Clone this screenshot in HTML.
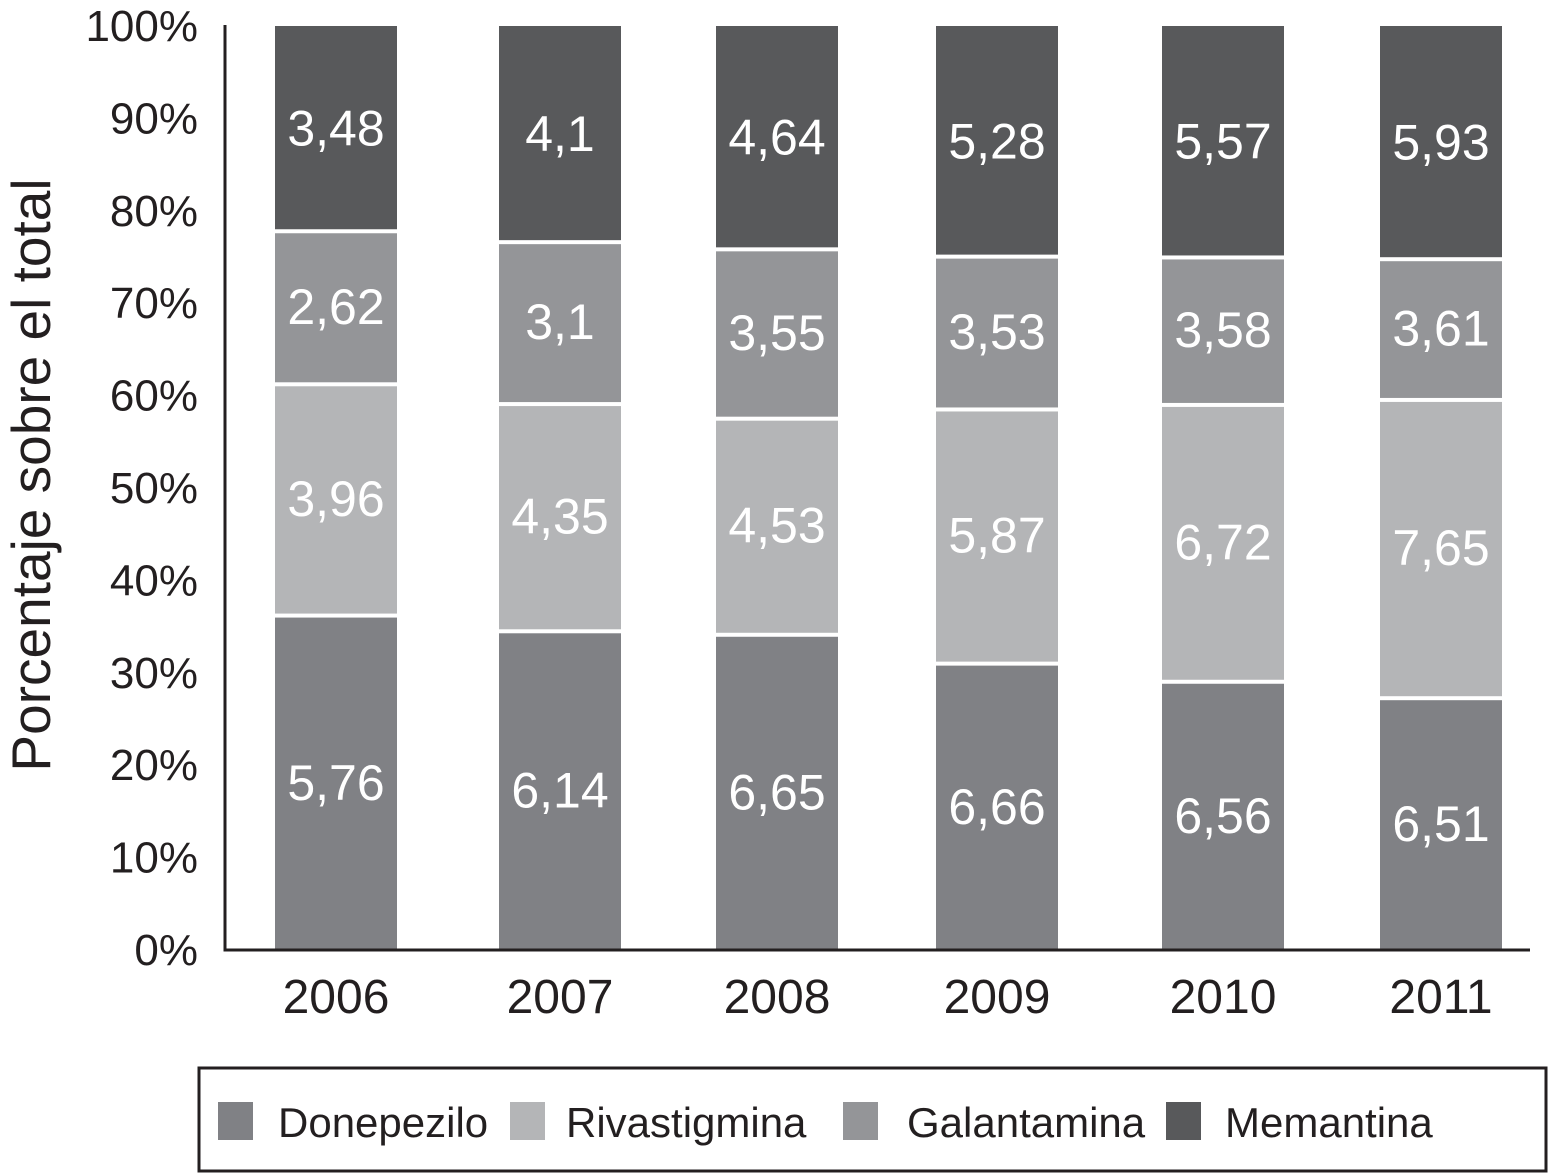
<!DOCTYPE html>
<html><head><meta charset="utf-8"><style>
body{margin:0;background:#fff}
svg{display:block;font-family:"Liberation Sans",Arial,sans-serif}
</style></head><body>
<svg id="c" width="1551" height="1174" xmlns="http://www.w3.org/2000/svg"></svg>
<script>
const years=["2006","2007","2008","2009","2010","2011"];
const donepezilo=[5.76,6.14,6.65,6.66,6.56,6.51];
const rivastigmina=[3.96,4.35,4.53,5.87,6.72,7.65];
const galantamina=[2.62,3.1,3.55,3.53,3.58,3.61];
const memantina=[3.48,4.1,4.64,5.28,5.57,5.93];
const yTicks=[0,10,20,30,40,50,60,70,80,90,100];
const seriesNames=["Donepezilo","Rivastigmina","Galantamina","Memantina"];
const series=[donepezilo,rivastigmina,galantamina,memantina];
const colors=["#808185","#b4b5b7","#949598","#58595b"];
const NS="http://www.w3.org/2000/svg";
const svg=document.getElementById('c');
function el(t,a,p){const e=document.createElementNS(NS,t);for(const k in a)e.setAttribute(k,a[k]);(p||svg).appendChild(e);return e;}
const y0=950,y1=26;
const yS=v=>y0-(v/100)*(y0-y1);
const barX=[275,499,716,936,1162,1380];
const bw=122;
const xS=i=>barX[i];
yTicks.forEach(t=>{
  const tx=el('text',{x:198,y:yS(t)+15,'text-anchor':'end','font-size':44,fill:'#231f20'});
  tx.textContent=t+'%';
  
  
});
const yt=el('text',{x:0,y:0,transform:'translate(50,475) rotate(-90)','text-anchor':'middle','font-size':55,fill:'#231f20'});
yt.textContent='Porcentaje sobre el total';


years.forEach((yr,i)=>{
  const tot=series.reduce((s,a)=>s+a[i],0);
  let cum=0;
  series.forEach((arr,k)=>{
    const v=arr[i];
    const pb=cum/tot*100, pt=(cum+v)/tot*100;
    cum+=v;
    const yb=yS(pb), ytp=yS(pt);
    const gap=k<3?4:0;
    const r=el('rect',{x:xS(i),y:ytp+gap,width:bw,height:Math.max(0,yb-ytp-gap),fill:colors[k]});
    
    
    const lb=el('text',{x:xS(i)+bw/2,y:(yb+ytp)/2+18,'text-anchor':'middle','font-size':50,fill:'#fff'});
    lb.textContent=String(v).replace('.',',');
    
    
  });
  const xl=el('text',{x:xS(i)+bw/2,y:1013,'text-anchor':'middle','font-size':48,fill:'#231f20'});
  xl.textContent=yr;
  
  
});
const ya=el('line',{x1:225,y1:25,x2:225,y2:951.5,stroke:'#231f20','stroke-width':3});


const xa=el('line',{x1:223.5,y1:950,x2:1530,y2:950,stroke:'#231f20','stroke-width':3});


const lg=el('g',{});


el('rect',{x:199,y:1068,width:1347,height:103,fill:'none',stroke:'#231f20','stroke-width':3},lg);
const sqX=[218,510,843,1166], txX=[278,566,907,1225];
seriesNames.forEach((n,k)=>{
  const s=el('rect',{x:sqX[k],y:1102,width:35,height:38,fill:colors[k]},lg);
  
  
  const t=el('text',{x:txX[k],y:1137,'font-size':42,fill:'#231f20'},lg);
  t.textContent=n;
  
  
});
</script>
</body></html>
